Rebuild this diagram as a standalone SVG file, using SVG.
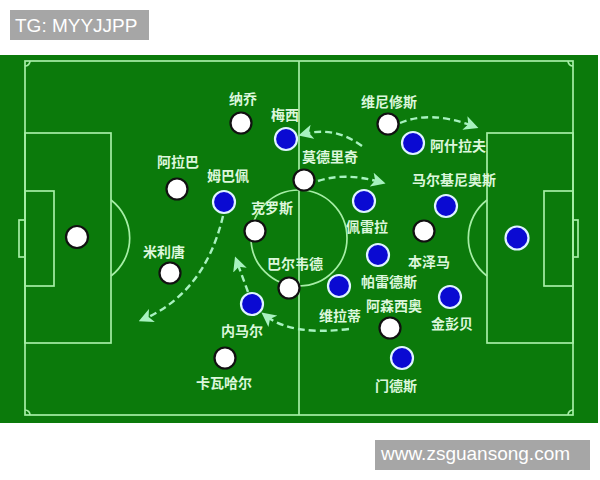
<svg xmlns="http://www.w3.org/2000/svg" width="600" height="480" viewBox="0 0 600 480">
<defs>
<style>
.line{fill:none;stroke:#a6eea6;stroke-width:1.7}
.w{fill:#ffffff;stroke:#111;stroke-width:2.2}
.b{fill:#0a0ad2;stroke:#dff4ff;stroke-width:2.2}
.lbl{font-family:"Noto Sans CJK SC","Liberation Sans",sans-serif;font-size:14px;font-weight:bold;fill:#dcf7dc;text-anchor:middle}
.arr{fill:none;stroke:#a8f2c0;stroke-width:2.4;stroke-dasharray:7 4;marker-end:url(#ah)}
.wm{font-family:"Liberation Sans",Arial,sans-serif;font-size:19px;fill:#ffffff}
</style>
<marker id="ah" viewBox="0 0 10 10" refX="6" refY="5" markerWidth="6" markerHeight="6" orient="auto" markerUnits="strokeWidth">
<path d="M0,0 L10,5 L0,10 L2.5,5 z" fill="#a8f2c0"/>
</marker>
</defs>
<rect width="600" height="480" fill="#ffffff"/>
<rect x="10" y="10" width="139" height="30" fill="#a6a6a6"/>
<text class="wm" x="15" y="32">TG: MYYJJPP</text>
<rect x="0" y="55" width="598" height="368" fill="#0b7a0b"/>
<g id="pitch">
<rect class="line" x="25" y="61" width="548" height="354"/>
<line class="line" x1="299" y1="61" x2="299" y2="415"/>
<circle class="line" cx="299" cy="238" r="48"/>
<rect class="line" x="25" y="133" width="86" height="210"/>
<rect class="line" x="25" y="191" width="29" height="95"/>
<rect class="line" x="19" y="220" width="6" height="37"/>
<path class="line" d="M111,200 A48,48 0 0 1 111,276"/>
<rect class="line" x="487" y="133" width="86" height="210"/>
<rect class="line" x="544" y="191" width="29" height="95"/>
<rect class="line" x="573" y="220" width="5" height="37"/>
<path class="line" d="M487,200 A48,48 0 0 0 487,276"/>
<path class="line" d="M25,66 A5,5 0 0 0 30,61"/>
<path class="line" d="M568,61 A5,5 0 0 0 573,66"/>
<path class="line" d="M25,410 A5,5 0 0 1 30,415"/>
<path class="line" d="M568,415 A5,5 0 0 1 573,410"/>
</g>
<g id="connectors">
<path class="arr" d="M362,146 Q335,126 304,134"/>
<path class="arr" d="M318,181 Q345,172 380,182"/>
<path class="arr" d="M400,123 Q430,110 473,126"/>
<path class="arr" d="M223,216 Q205,292 144,319"/>
<path class="arr" d="M248,292 L237,262"/>
<path class="arr" d="M349,329 Q292,336 266,316"/>
</g>
<g id="nacho"><circle class="w" cx="241" cy="123" r="10.5"/><text class="lbl" x="243" y="104">纳乔</text></g>
<g id="alaba"><circle class="w" cx="177" cy="189" r="10.5"/><text class="lbl" x="178" y="167">阿拉巴</text></g>
<g id="gk-left"><circle class="w" cx="77" cy="237" r="11"/></g>
<g id="militao"><circle class="w" cx="170" cy="273" r="10.5"/><text class="lbl" x="164" y="257">米利唐</text></g>
<g id="carvajal"><circle class="w" cx="225" cy="358" r="10.5"/><text class="lbl" x="224" y="388">卡瓦哈尔</text></g>
<g id="kroos"><circle class="w" cx="255" cy="231" r="10.5"/><text class="lbl" x="272" y="213">克罗斯</text></g>
<g id="modric"><circle class="w" cx="304" cy="180" r="10.5"/><text class="lbl" x="330" y="162">莫德里奇</text></g>
<g id="valverde"><circle class="w" cx="289" cy="288" r="10.5"/><text class="lbl" x="295" y="269">巴尔韦德</text></g>
<g id="vinicius"><circle class="w" cx="388" cy="124" r="10.5"/><text class="lbl" x="389" y="107">维尼修斯</text></g>
<g id="benzema"><circle class="w" cx="424" cy="231" r="10.5"/><text class="lbl" x="429" y="267">本泽马</text></g>
<g id="asensio"><circle class="w" cx="390" cy="328" r="10.5"/><text class="lbl" x="394" y="311">阿森西奥</text></g>
<g id="messi"><circle class="b" cx="286" cy="139" r="11"/><text class="lbl" x="285" y="120">梅西</text></g>
<g id="mbappe"><circle class="b" cx="224" cy="202" r="11"/><text class="lbl" x="228" y="181">姆巴佩</text></g>
<g id="hakimi"><circle class="b" cx="413" cy="143" r="11"/><text class="lbl" x="458" y="151">阿什拉夫</text></g>
<g id="pereira"><circle class="b" cx="364" cy="201" r="11"/><text class="lbl" x="367" y="232">佩雷拉</text></g>
<g id="marquinhos"><circle class="b" cx="446" cy="206" r="11"/><text class="lbl" x="454" y="185">马尔基尼奥斯</text></g>
<g id="gk-right"><circle class="b" cx="517" cy="238" r="11.5"/></g>
<g id="paredes"><circle class="b" cx="378" cy="255" r="11"/><text class="lbl" x="389" y="287">帕雷德斯</text></g>
<g id="verratti"><circle class="b" cx="339" cy="286" r="11"/><text class="lbl" x="340" y="321">维拉蒂</text></g>
<g id="neymar"><circle class="b" cx="252" cy="304" r="11"/><text class="lbl" x="242" y="336">内马尔</text></g>
<g id="kimpembe"><circle class="b" cx="450" cy="297" r="11"/><text class="lbl" x="452" y="329">金彭贝</text></g>
<g id="mendes"><circle class="b" cx="402" cy="358" r="11"/><text class="lbl" x="396" y="391">门德斯</text></g>
<rect x="375" y="440" width="215" height="30" fill="#a6a6a6"/>
<text class="wm" x="381" y="460">www.zsguansong.com</text>
</svg>
